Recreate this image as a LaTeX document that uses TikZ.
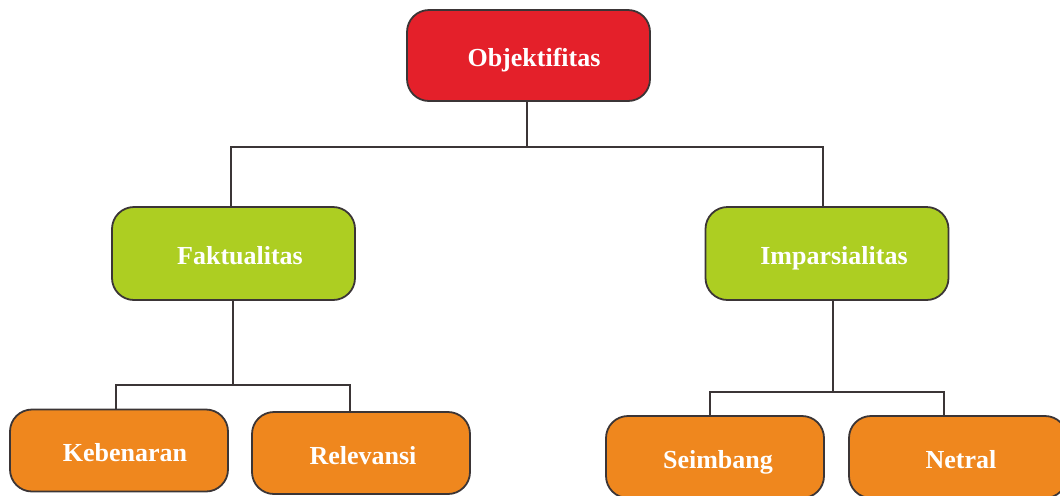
\documentclass[tikz,border=0pt]{standalone}
\usepackage{fontspec}
\setmainfont{Liberation Serif}
\definecolor{cred}{HTML}{E4202A}
\definecolor{cgreen}{HTML}{ADCE22}
\definecolor{corange}{HTML}{EF871E}
\definecolor{cline}{HTML}{3B3536}
\newcommand{\tsh}[2]{\hspace*{#1}#2}
\begin{document}
\begin{tikzpicture}[x=0.5pt,y=-0.5pt,
  box/.style={draw=cline,line width=0.9pt,rounded corners=11pt,text=white,
    font=\fontsize{13}{15}\selectfont\bfseries,inner sep=0pt,
    text height=11.5pt,text depth=0.5pt},
  topbox/.style={box,fill=cred,minimum width=121.5pt,minimum height=45.5pt},
  midbox/.style={box,fill=cgreen,minimum width=121.5pt,minimum height=46.5pt},
  leafbox/.style={box,fill=corange,minimum width=109pt,minimum height=41pt},
  conn/.style={draw=cline,line width=1pt}]
\useasboundingbox (0,0) rectangle (1060,495);
\clip (0,0) rectangle (1060,495);
\node[topbox] (obj) at (528.5,55.5) {\tsh{5.5pt}{Objektifitas}};
\node[midbox] (fak) at (233.5,253.5) {\tsh{6.5pt}{Faktualitas}};
\node[midbox] (imp) at (827,253.5) {\tsh{7pt}{Imparsialitas}};
\node[leafbox] (keb) at (119,450.5) {\tsh{6pt}{Kebenaran}};
\node[leafbox] (rel) at (361,453) {\tsh{2pt}{Relevansi}};
\node[leafbox] (sei) at (715,457) {\tsh{3pt}{Seimbang}};
\node[leafbox] (net) at (958,457) {\tsh{3pt}{Netral}};
\coordinate (b1) at (527,147);
\coordinate (b2) at (233,385);
\coordinate (b3) at (833,392);
\draw[conn] (obj.south -| b1) -- (b1);
\draw[conn] ([xshift=-1.25pt]fak.north) |- (b1) -| ([xshift=-2pt]imp.north);
\draw[conn] (fak.south -| b2) -- (b2);
\draw[conn] ([xshift=-1.5pt]keb.north) |- (b2) -| ([xshift=-5.5pt]rel.north);
\draw[conn] (imp.south -| b3) -- (b3);
\draw[conn] ([xshift=-2.5pt]sei.north) |- (b3) -| ([xshift=-7pt]net.north);
\end{tikzpicture}
\end{document}
